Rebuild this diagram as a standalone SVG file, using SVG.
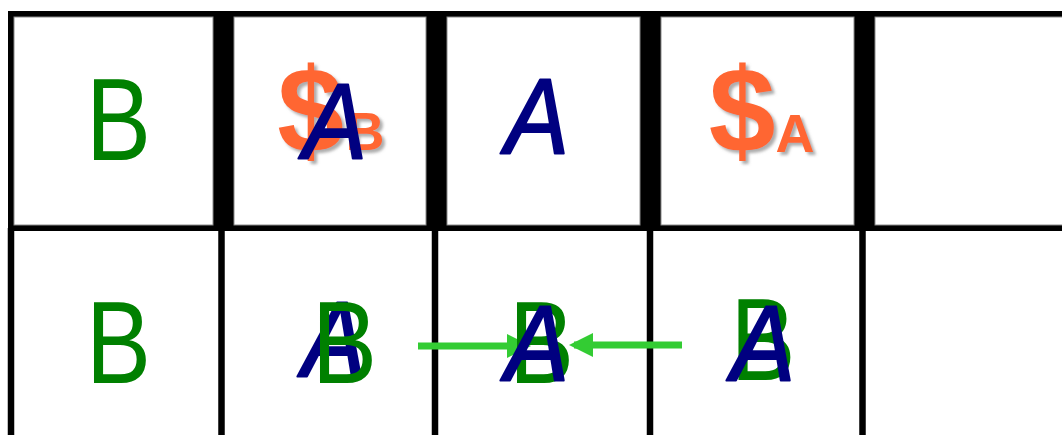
<svg xmlns="http://www.w3.org/2000/svg" width="1062" height="435" viewBox="0 0 1062 435">
<style>
.cell{fill:#fff;stroke:#8a8a8a;stroke-width:1}
.vl{stroke:#000;stroke-width:6.5}
.B{font-family:"Liberation Sans",Arial,sans-serif;font-size:116px;fill:#008000;text-anchor:middle}
.A{font-family:"Liberation Sans",Arial,sans-serif;font-style:italic;font-size:108px;fill:#000080;stroke:#000080;stroke-width:2;stroke-linejoin:round;text-anchor:middle}
.D{font-family:"Liberation Sans",Arial,sans-serif;font-weight:bold;font-size:120px;fill:#FF6633;text-anchor:middle;filter:url(#sh)}
.S{font-family:"Liberation Sans",Arial,sans-serif;font-weight:bold;font-size:54px;fill:#FF6633;text-anchor:middle;filter:url(#sh)}
.arr{stroke:#33CC33;stroke-width:7;fill:none;marker-end:url(#ah)}
</style>
<defs>
<filter id="sh" x="-20%" y="-20%" width="150%" height="150%">
<feDropShadow dx="3" dy="3" stdDeviation="1.5" flood-color="#777" flood-opacity="0.6"/>
</filter>
<marker id="ah" markerUnits="userSpaceOnUse" markerWidth="24" markerHeight="24" refX="19" refY="12" orient="auto">
<path d="M0,0 L24,12 L0,24 z" fill="#33CC33"/>
</marker>
</defs>
<rect width="1062" height="435" fill="#fff"/>
<g id="grid">
<rect x="8" y="11" width="1060" height="220" fill="#000"/>
<rect class="cell" x="14" y="17" width="199" height="208"/>
<rect class="cell" x="234" y="17" width="192" height="208"/>
<rect class="cell" x="447" y="17" width="193" height="208"/>
<rect class="cell" x="661" y="17" width="193" height="208"/>
<rect class="cell" x="875" y="17" width="200" height="208"/>
<line class="vl" x1="11" y1="228" x2="11" y2="435"/>
<line class="vl" x1="221.5" y1="228" x2="221.5" y2="435"/>
<line class="vl" x1="435" y1="228" x2="435" y2="435"/>
<line class="vl" x1="650" y1="228" x2="650" y2="435"/>
<line class="vl" x1="862.5" y1="228" x2="862.5" y2="435"/>
</g>
<g id="connectors">
<line class="arr" x1="418" y1="346" x2="526" y2="346"/>
<line class="arr" x1="682" y1="345" x2="574" y2="345"/>
</g>
<g id="top1"><text class="B" x="118.5" y="160" textLength="65" lengthAdjust="spacingAndGlyphs">B</text></g>
<g id="top2">
<text class="D" x="310.5" y="151.5">$</text>
<text class="S" x="365" y="150">B</text>
<text class="A" x="335" y="159" textLength="64" lengthAdjust="spacingAndGlyphs">A</text>
</g>
<g id="top3"><text class="A" x="537" y="154" textLength="64" lengthAdjust="spacingAndGlyphs">A</text></g>
<g id="top4">
<text class="D" x="742" y="151.5">$</text>
<text class="S" x="795" y="152">A</text>
</g>
<g id="bot1"><text class="B" x="118.5" y="383" textLength="65" lengthAdjust="spacingAndGlyphs">B</text></g>
<g id="bot2">
<text class="A" x="334" y="377" textLength="64" lengthAdjust="spacingAndGlyphs">A</text>
<text class="B" x="344.5" y="383" textLength="65" lengthAdjust="spacingAndGlyphs">B</text>
</g>
<g id="bot3">
<text class="B" x="541.5" y="383" textLength="65" lengthAdjust="spacingAndGlyphs">B</text>
<text class="A" x="537" y="381" textLength="64" lengthAdjust="spacingAndGlyphs">A</text>
</g>
<g id="bot4">
<text class="B" x="763" y="380" textLength="65" lengthAdjust="spacingAndGlyphs">B</text>
<text class="A" x="763" y="381" textLength="64" lengthAdjust="spacingAndGlyphs">A</text>
</g>
</svg>
